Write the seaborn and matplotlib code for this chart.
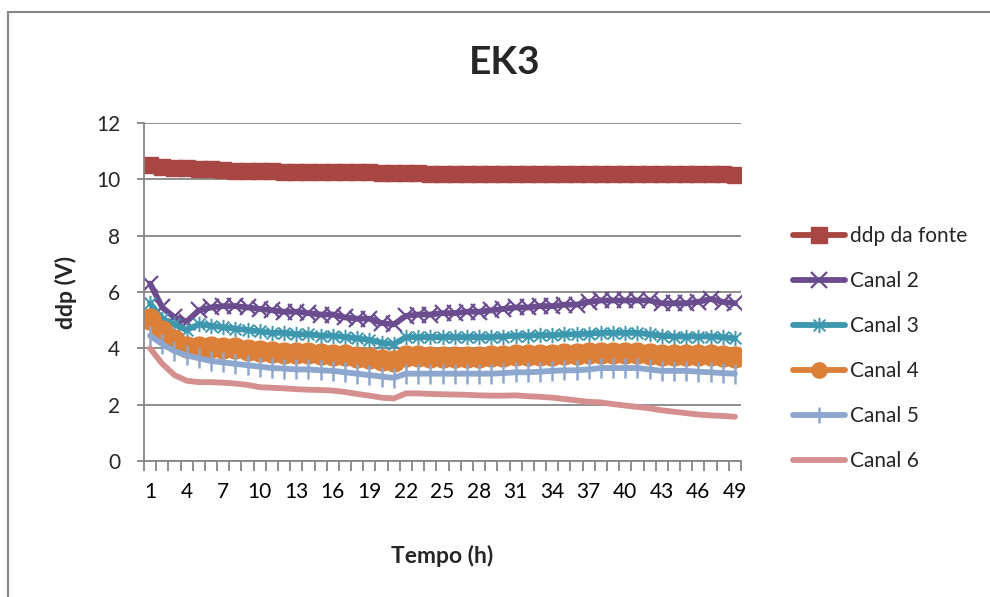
import matplotlib
matplotlib.use("Agg")
import matplotlib.pyplot as plt
import seaborn as sns
import numpy as np
from matplotlib.path import Path
from matplotlib.lines import Line2D

hours = list(range(1, 50))

ddp_fonte = [10.5, 10.45, 10.42, 10.4, 10.38, 10.35, 10.33, 10.3, 10.3, 10.28,
             10.28, 10.27, 10.27, 10.27, 10.25, 10.25, 10.25, 10.25, 10.25, 10.24,
             10.23, 10.22, 10.22, 10.2, 10.2, 10.2, 10.2, 10.2, 10.2, 10.2,
             10.2, 10.18, 10.18, 10.18, 10.18, 10.18, 10.2, 10.2, 10.2, 10.18,
             10.18, 10.18, 10.18, 10.18, 10.18, 10.18, 10.18, 10.18, 10.17]
canal2 = [6.3, 5.45, 5.1, 4.95, 5.35, 5.45, 5.5, 5.5, 5.45, 5.4,
          5.35, 5.3, 5.3, 5.25, 5.2, 5.2, 5.1, 5.05, 5.05, 4.9,
          4.85, 5.15, 5.2, 5.2, 5.25, 5.25, 5.3, 5.3, 5.35, 5.4,
          5.45, 5.45, 5.5, 5.5, 5.55, 5.55, 5.65, 5.7, 5.7, 5.7,
          5.7, 5.7, 5.6, 5.6, 5.6, 5.65, 5.75, 5.65, 5.6]
canal3 = [5.6, 5.05, 4.85, 4.65, 4.85, 4.8, 4.75, 4.7, 4.65, 4.6,
          4.55, 4.55, 4.5, 4.5, 4.45, 4.45, 4.4, 4.35, 4.3, 4.2,
          4.15, 4.4, 4.4, 4.4, 4.4, 4.4, 4.4, 4.4, 4.4, 4.42,
          4.45, 4.45, 4.47, 4.47, 4.5, 4.5, 4.52, 4.55, 4.55, 4.55,
          4.55, 4.5, 4.45, 4.42, 4.42, 4.42, 4.42, 4.4, 4.35]
canal4 = [5.05, 4.6, 4.3, 4.05, 4.05, 4.05, 4.0, 4.0, 3.95, 3.9,
          3.88, 3.85, 3.85, 3.82, 3.8, 3.78, 3.75, 3.7, 3.65, 3.6,
          3.55, 3.72, 3.72, 3.7, 3.7, 3.7, 3.7, 3.7, 3.72, 3.72,
          3.75, 3.75, 3.77, 3.78, 3.8, 3.8, 3.82, 3.85, 3.85, 3.85,
          3.85, 3.8, 3.78, 3.75, 3.75, 3.75, 3.75, 3.72, 3.7]
canal5 = [4.45, 4.15, 3.9, 3.75, 3.65, 3.55, 3.5, 3.45, 3.4, 3.35,
          3.3, 3.28, 3.25, 3.25, 3.22, 3.2, 3.15, 3.1, 3.05, 3.0,
          2.95, 3.1, 3.1, 3.1, 3.1, 3.1, 3.1, 3.1, 3.1, 3.12,
          3.15, 3.15, 3.17, 3.2, 3.22, 3.22, 3.25, 3.3, 3.3, 3.3,
          3.3, 3.25, 3.2, 3.2, 3.2, 3.17, 3.15, 3.12, 3.1]
canal6 = [4.0, 3.45, 3.05, 2.85, 2.8, 2.8, 2.78, 2.75, 2.7, 2.62,
          2.6, 2.58, 2.55, 2.53, 2.52, 2.5, 2.45, 2.38, 2.32, 2.25,
          2.22, 2.4, 2.4, 2.38, 2.37, 2.36, 2.35, 2.33, 2.32, 2.32,
          2.33, 2.3, 2.28, 2.25, 2.2, 2.15, 2.1, 2.08, 2.02, 1.97,
          1.92, 1.87, 1.8, 1.75, 1.7, 1.65, 1.62, 1.6, 1.57]

series_names = ["ddp da fonte", "Canal 2", "Canal 3", "Canal 4", "Canal 5", "Canal 6"]
yticks = [0, 2, 4, 6, 8, 10, 12]
xtick_labels = list(range(1, 50, 3))

sns.set_theme(style="white")
plt.rcParams['font.family'] = ['Lato', 'DejaVu Sans']

fig = plt.figure(figsize=(9.9, 5.97), dpi=100)
ax = fig.add_axes([144/990, 1-461/597, (741-144)/990, (461-123)/597])

star = Path([(-1, -1), (1, 1), (-1, 1), (1, -1), (0, -1.3), (0, 1.3)],
            [Path.MOVETO, Path.LINETO, Path.MOVETO, Path.LINETO, Path.MOVETO, Path.LINETO])

styles = [
    dict(color="#A84643", marker="s", markersize=12, mec="#A84643", mew=1),
    dict(color="#6B4C8F", marker="x", markersize=12, mec="#6B4C8F", mew=1.6),
    dict(color="#3C97AF", marker=star, markersize=11, mec="#3C97AF", mew=1.4),
    dict(color="#DC7F38", marker="o", markersize=15, mec="#DC7F38", mew=1),
    dict(color="#8DA6CE", marker="|", markersize=15, mec="#8DA6CE", mew=1.8),
    dict(color="#D48F8E", marker=None),
]
data = [ddp_fonte, canal2, canal3, canal4, canal5, canal6]

for name, vals, st in zip(series_names, data, styles):
    sns.lineplot(x=hours, y=vals, ax=ax, lw=4.2, label=name, legend=False,
                 solid_capstyle="round", **st)

ax.set_xlim(0.5, 49.5)
ax.set_ylim(0, 12)
ax.set_yticks(yticks)
ax.set_yticklabels([str(v) for v in yticks], fontsize=15)
ax.set_xticks(xtick_labels)
ax.set_xticklabels([str(v) for v in xtick_labels], fontsize=15)
ax.set_xticks(np.arange(0.5, 50, 1), minor=True)
ax.tick_params(axis="x", which="major", length=0, pad=15, colors="black")
ax.tick_params(axis="x", which="minor", length=7, width=1.3, color="#868686", direction="out", bottom=True)
ax.tick_params(axis="y", which="major", length=5, width=1.3, color="#868686", direction="out", left=True, pad=12)
ax.grid(axis="y", color="#868686", lw=1.3)
ax.grid(axis="x", visible=False)
for s in ["top", "right"]:
    ax.spines[s].set_visible(False)
for s in ["left", "bottom"]:
    ax.spines[s].set_color("#868686")
    ax.spines[s].set_linewidth(1.3)
ax.set_axisbelow(True)

ax.set_xlabel("Tempo (h)", fontsize=16.5, fontweight="bold", labelpad=31)
ax.set_ylabel("ddp (V)", fontsize=16.5, fontweight="bold", labelpad=14)
fig.text(505/990, 1-62/597, "EK3", ha="center", va="center", fontsize=28, fontweight="bold")

handles = []
for name, st in zip(series_names, styles):
    kw = dict(st)
    if kw.get("marker") == "o":
        kw["markersize"] = 11
    if kw.get("marker") == "|":
        kw["markersize"] = 12
    handles.append(Line2D([0], [0], lw=4.2, solid_capstyle="round", **kw))
fig.legend(handles, series_names, loc="upper left", bbox_to_anchor=(785/990, 1-218/597),
           frameon=False, fontsize=15, handlelength=2.5, labelspacing=1.2, handletextpad=0.2,
           borderaxespad=0)

border = plt.Rectangle((8/990, -0.1), 1.2, 1 - 12/597 + 0.1, transform=fig.transFigure,
                       fill=False, edgecolor="#868686", lw=1.5)
fig.patches.append(border)

fig.savefig("out.png", dpi=100)
